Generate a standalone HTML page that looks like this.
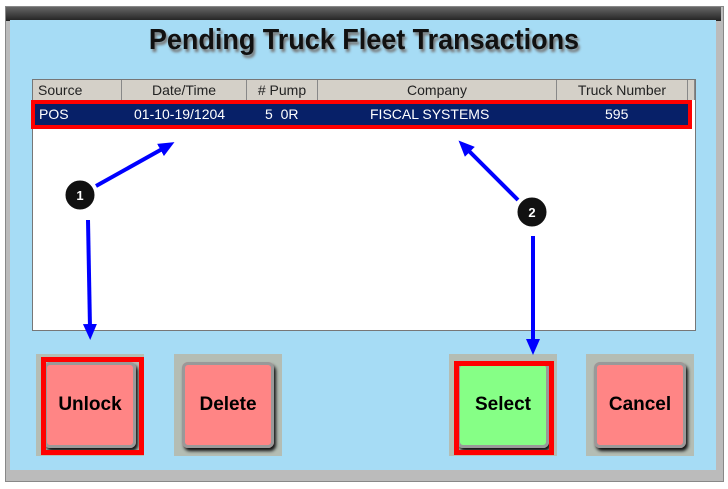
<!DOCTYPE html><html><head><style>
body{margin:0;width:728px;height:489px;background:#fff;position:relative;overflow:hidden;font-family:"Liberation Sans",sans-serif}
.a{position:absolute}
.hd{position:absolute;top:80px;height:20px;background:#d4d0c8;border-right:1px solid #888;font-size:14px;color:#222;text-align:center;line-height:20px;box-sizing:border-box}
.bt{position:absolute;top:354px;width:108px;height:102px;background:#b4bdb4}
.in{position:absolute;left:8px;top:8px;width:92px;height:86px;border-radius:6px;font-weight:bold;font-size:19px;display:flex;align-items:center;justify-content:center;box-shadow:inset 0 0 0 3px #999,2px 3px 3px #111}
.rb{position:absolute;border:5px solid #f00;box-sizing:border-box}
</style></head><body>
<div class="a" style="left:5px;top:6px;width:717px;height:474px;background:#bbb;border:1px solid #888"></div>
<div class="a" style="left:6px;top:7px;width:715px;height:14px;background:linear-gradient(#666,#222)"></div>
<div class="a" style="left:10px;top:20px;width:706px;height:450px;background:#a6dcf5"></div>
<div class="a" style="left:0;top:24px;width:728px;text-align:center;font-weight:bold;font-size:29px;color:#111;text-shadow:2px 3px 3px #777;transform:scaleX(0.93)">Pending Truck Fleet Transactions</div>
<div class="a" style="left:32px;top:79px;width:664px;height:252px;background:#fff;border:1px solid #777;box-sizing:border-box"></div>
<div class="hd" style="left:33px;width:89px;text-align:left;padding-left:5px">Source</div>
<div class="hd" style="left:122px;width:125px">Date/Time</div>
<div class="hd" style="left:247px;width:71px">&#35; Pump</div>
<div class="hd" style="left:318px;width:239px">Company</div>
<div class="hd" style="left:557px;width:131px">Truck Number</div>
<div class="hd" style="left:688px;width:7px"></div>
<div class="a" style="left:31px;top:100px;width:661px;height:29px;background:#072068;border:4px solid #f00;box-sizing:border-box;color:#fff;font-size:14px;line-height:21px">
<span class="a" style="left:4px">POS</span><span class="a" style="left:99px">01-10-19/1204</span><span class="a" style="left:230px">5&nbsp;&nbsp;0R</span><span class="a" style="left:335px">FISCAL SYSTEMS</span><span class="a" style="left:570px">595</span></div>
<div class="bt" style="left:36px"><div class="in" style="background:#ff8585">Unlock</div></div>
<div class="rb" style="left:41px;top:357px;width:103px;height:98px"></div>
<div class="bt" style="left:174px"><div class="in" style="background:#ff8585">Delete</div></div>
<div class="bt" style="left:449px"><div class="in" style="background:#86ff86">Select</div></div>
<div class="rb" style="left:454px;top:361px;width:100px;height:94px"></div>
<div class="bt" style="left:586px"><div class="in" style="background:#ff8585">Cancel</div></div>
<svg class="a" style="left:0;top:0" width="728" height="489">
<defs><marker id="m" markerWidth="16" markerHeight="14" refX="4" refY="7" orient="auto" markerUnits="userSpaceOnUse" viewBox="0 0 16 14"><path d="M0,0L16,7L0,14z" fill="#00f"/></marker></defs>
<g stroke="#00f" stroke-width="4" fill="none">
<line x1="96" y1="186" x2="164" y2="148" marker-end="url(#m)"/>
<line x1="88" y1="220" x2="90" y2="328" marker-end="url(#m)"/>
<line x1="518" y1="200" x2="467" y2="149" marker-end="url(#m)"/>
<line x1="533" y1="236" x2="533" y2="343" marker-end="url(#m)"/>
</g>
<g stroke="#fff" stroke-width="3" fill="#111">
<circle cx="80" cy="195" r="16"/><circle cx="532" cy="212" r="16"/></g>
<g fill="#fff" font-weight="bold" font-size="13" text-anchor="middle" font-family="Liberation Sans">
<text x="80" y="200">1</text><text x="532" y="217">2</text></g>
</svg>
</body></html>
